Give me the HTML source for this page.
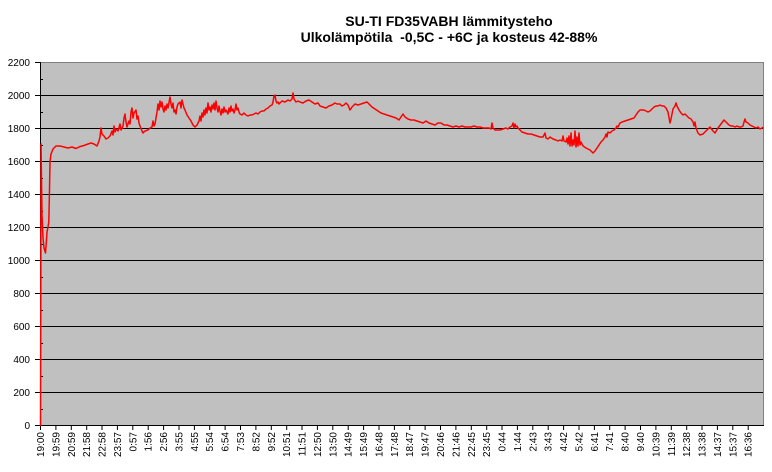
<!DOCTYPE html>
<html><head><meta charset="utf-8"><style>
html,body{margin:0;padding:0;background:#fff;}
svg{display:block;font-family:"Liberation Sans",Arial,sans-serif;}
</style></head><body>
<svg width="772" height="472" viewBox="0 0 772 472" xmlns="http://www.w3.org/2000/svg">
<rect x="0" y="0" width="772" height="472" fill="#fff"/>
<text x="449" y="26" text-anchor="middle" font-size="14" font-weight="bold" fill="#000">SU-TI FD35VABH lämmitysteho</text>
<text x="449" y="42" text-anchor="middle" font-size="14" font-weight="bold" fill="#000" xml:space="preserve">Ulkolämpötila  -0,5C - +6C ja kosteus 42-88%</text>
<rect x="40" y="62" width="723" height="364" fill="#c0c0c0"/>
<g stroke="#000" stroke-width="1">
<line x1="40" y1="392.5" x2="763" y2="392.5"/>
<line x1="40" y1="359.5" x2="763" y2="359.5"/>
<line x1="40" y1="326.5" x2="763" y2="326.5"/>
<line x1="40" y1="293.5" x2="763" y2="293.5"/>
<line x1="40" y1="260.5" x2="763" y2="260.5"/>
<line x1="40" y1="227.5" x2="763" y2="227.5"/>
<line x1="40" y1="194.5" x2="763" y2="194.5"/>
<line x1="40" y1="161.5" x2="763" y2="161.5"/>
<line x1="40" y1="128.5" x2="763" y2="128.5"/>
<line x1="40" y1="95.5" x2="763" y2="95.5"/>
</g>
<line x1="40" y1="62.5" x2="763" y2="62.5" stroke="#808080"/>
<line x1="763.5" y1="62" x2="763.5" y2="426" stroke="#808080"/>
<line x1="40.5" y1="62" x2="40.5" y2="426" stroke="#000"/>
<line x1="40" y1="425.5" x2="764" y2="425.5" stroke="#000"/>
<g stroke="#000" stroke-width="1">
<line x1="35" y1="425.5" x2="40" y2="425.5"/><line x1="35" y1="392.5" x2="40" y2="392.5"/><line x1="35" y1="359.5" x2="40" y2="359.5"/><line x1="35" y1="326.5" x2="40" y2="326.5"/><line x1="35" y1="293.5" x2="40" y2="293.5"/><line x1="35" y1="260.5" x2="40" y2="260.5"/><line x1="35" y1="227.5" x2="40" y2="227.5"/><line x1="35" y1="194.5" x2="40" y2="194.5"/><line x1="35" y1="161.5" x2="40" y2="161.5"/><line x1="35" y1="128.5" x2="40" y2="128.5"/><line x1="35" y1="95.5" x2="40" y2="95.5"/><line x1="35" y1="62.5" x2="40" y2="62.5"/>
<line x1="40" y1="409.5" x2="43" y2="409.5"/><line x1="40" y1="376.5" x2="43" y2="376.5"/><line x1="40" y1="343.5" x2="43" y2="343.5"/><line x1="40" y1="310.5" x2="43" y2="310.5"/><line x1="40" y1="277.5" x2="43" y2="277.5"/><line x1="40" y1="244.5" x2="43" y2="244.5"/><line x1="40" y1="211.5" x2="43" y2="211.5"/><line x1="40" y1="178.5" x2="43" y2="178.5"/><line x1="40" y1="145.5" x2="43" y2="145.5"/><line x1="40" y1="112.5" x2="43" y2="112.5"/><line x1="40" y1="79.5" x2="43" y2="79.5"/>
</g>
<g font-size="10" fill="#000" text-anchor="end">
<text x="30" y="429">0</text><text x="30" y="396">200</text><text x="30" y="363">400</text><text x="30" y="330">600</text><text x="30" y="297">800</text><text x="30" y="264">1000</text><text x="30" y="231">1200</text><text x="30" y="198">1400</text><text x="30" y="165">1600</text><text x="30" y="132">1800</text><text x="30" y="99">2000</text><text x="30" y="66">2200</text>
</g>
<g stroke="#000" stroke-width="1">
<line x1="40.5" y1="426" x2="40.5" y2="430"/><line x1="55.9" y1="426" x2="55.9" y2="430"/><line x1="71.3" y1="426" x2="71.3" y2="430"/><line x1="86.7" y1="426" x2="86.7" y2="430"/><line x1="102" y1="426" x2="102" y2="430"/><line x1="117.4" y1="426" x2="117.4" y2="430"/><line x1="132.8" y1="426" x2="132.8" y2="430"/><line x1="148.2" y1="426" x2="148.2" y2="430"/><line x1="163.6" y1="426" x2="163.6" y2="430"/><line x1="179" y1="426" x2="179" y2="430"/><line x1="194.4" y1="426" x2="194.4" y2="430"/><line x1="209.7" y1="426" x2="209.7" y2="430"/><line x1="225.1" y1="426" x2="225.1" y2="430"/><line x1="240.5" y1="426" x2="240.5" y2="430"/><line x1="255.9" y1="426" x2="255.9" y2="430"/><line x1="271.3" y1="426" x2="271.3" y2="430"/><line x1="286.7" y1="426" x2="286.7" y2="430"/><line x1="302" y1="426" x2="302" y2="430"/><line x1="317.4" y1="426" x2="317.4" y2="430"/><line x1="332.8" y1="426" x2="332.8" y2="430"/><line x1="348.2" y1="426" x2="348.2" y2="430"/><line x1="363.6" y1="426" x2="363.6" y2="430"/><line x1="379" y1="426" x2="379" y2="430"/><line x1="394.4" y1="426" x2="394.4" y2="430"/><line x1="409.7" y1="426" x2="409.7" y2="430"/><line x1="425.1" y1="426" x2="425.1" y2="430"/><line x1="440.5" y1="426" x2="440.5" y2="430"/><line x1="455.9" y1="426" x2="455.9" y2="430"/><line x1="471.3" y1="426" x2="471.3" y2="430"/><line x1="486.7" y1="426" x2="486.7" y2="430"/><line x1="502" y1="426" x2="502" y2="430"/><line x1="517.4" y1="426" x2="517.4" y2="430"/><line x1="532.8" y1="426" x2="532.8" y2="430"/><line x1="548.2" y1="426" x2="548.2" y2="430"/><line x1="563.6" y1="426" x2="563.6" y2="430"/><line x1="579" y1="426" x2="579" y2="430"/><line x1="594.4" y1="426" x2="594.4" y2="430"/><line x1="609.7" y1="426" x2="609.7" y2="430"/><line x1="625.1" y1="426" x2="625.1" y2="430"/><line x1="640.5" y1="426" x2="640.5" y2="430"/><line x1="655.9" y1="426" x2="655.9" y2="430"/><line x1="671.3" y1="426" x2="671.3" y2="430"/><line x1="686.7" y1="426" x2="686.7" y2="430"/><line x1="702" y1="426" x2="702" y2="430"/><line x1="717.4" y1="426" x2="717.4" y2="430"/><line x1="732.8" y1="426" x2="732.8" y2="430"/><line x1="748.2" y1="426" x2="748.2" y2="430"/>
</g>
<g font-size="10" fill="#000" text-anchor="end">
<text transform="translate(44,432) rotate(-90)">19:00</text>
<text transform="translate(59.4,432) rotate(-90)">19:59</text>
<text transform="translate(74.8,432) rotate(-90)">20:59</text>
<text transform="translate(90.2,432) rotate(-90)">21:58</text>
<text transform="translate(105.5,432) rotate(-90)">22:58</text>
<text transform="translate(120.9,432) rotate(-90)">23:57</text>
<text transform="translate(136.3,432) rotate(-90)">0:57</text>
<text transform="translate(151.7,432) rotate(-90)">1:56</text>
<text transform="translate(167.1,432) rotate(-90)">2:56</text>
<text transform="translate(182.5,432) rotate(-90)">3:55</text>
<text transform="translate(197.9,432) rotate(-90)">4:55</text>
<text transform="translate(213.2,432) rotate(-90)">5:54</text>
<text transform="translate(228.6,432) rotate(-90)">6:54</text>
<text transform="translate(244,432) rotate(-90)">7:53</text>
<text transform="translate(259.4,432) rotate(-90)">8:52</text>
<text transform="translate(274.8,432) rotate(-90)">9:52</text>
<text transform="translate(290.2,432) rotate(-90)">10:51</text>
<text transform="translate(305.5,432) rotate(-90)">11:51</text>
<text transform="translate(320.9,432) rotate(-90)">12:50</text>
<text transform="translate(336.3,432) rotate(-90)">13:50</text>
<text transform="translate(351.7,432) rotate(-90)">14:49</text>
<text transform="translate(367.1,432) rotate(-90)">15:49</text>
<text transform="translate(382.5,432) rotate(-90)">16:48</text>
<text transform="translate(397.9,432) rotate(-90)">17:48</text>
<text transform="translate(413.2,432) rotate(-90)">18:47</text>
<text transform="translate(428.6,432) rotate(-90)">19:47</text>
<text transform="translate(444,432) rotate(-90)">20:46</text>
<text transform="translate(459.4,432) rotate(-90)">21:46</text>
<text transform="translate(474.8,432) rotate(-90)">22:45</text>
<text transform="translate(490.2,432) rotate(-90)">23:45</text>
<text transform="translate(505.5,432) rotate(-90)">0:44</text>
<text transform="translate(520.9,432) rotate(-90)">1:44</text>
<text transform="translate(536.3,432) rotate(-90)">2:43</text>
<text transform="translate(551.7,432) rotate(-90)">3:43</text>
<text transform="translate(567.1,432) rotate(-90)">4:42</text>
<text transform="translate(582.5,432) rotate(-90)">5:42</text>
<text transform="translate(597.9,432) rotate(-90)">6:41</text>
<text transform="translate(613.2,432) rotate(-90)">7:41</text>
<text transform="translate(628.6,432) rotate(-90)">8:40</text>
<text transform="translate(644,432) rotate(-90)">9:40</text>
<text transform="translate(659.4,432) rotate(-90)">10:39</text>
<text transform="translate(674.8,432) rotate(-90)">11:39</text>
<text transform="translate(690.2,432) rotate(-90)">12:38</text>
<text transform="translate(705.5,432) rotate(-90)">13:38</text>
<text transform="translate(720.9,432) rotate(-90)">14:37</text>
<text transform="translate(736.3,432) rotate(-90)">15:37</text>
<text transform="translate(751.7,432) rotate(-90)">16:36</text>
</g>
<polyline fill="none" stroke="#ff0000" stroke-width="1.5" stroke-linejoin="round" points="
40.5,426 40.8,300 41,144 41.5,180 42,215 43,238 44,248 45.5,253 46.5,240 47,232 48,227 48.8,222 49.5,190 50,162 51,154 53,149 56,146 60,146 64,147 68,148 72,147 76,148.5 80,146.6 84,145.5 88,144 91,143 94,144 97,146 99,141 100,137 101,128 102,134 104,136 106,139 108,138 110,136 112,131 113,135 114,126 115,132 116,129 118,131 120,124 121,130 123,126 124,118 125,114 126,122 127,127 129,121 130,124 131,112 132,108 133,118 134,113 136,110 137,119 138,116 139,123 140,126 142,131 143,133 145,131 148,130 150,128 152,127 153,121 154,126 155,124 156,118 157,112 158,104 159,110 160,101 161,107 162,102 163,109 164,112 165,106 166,110 167,104 168,108 170,97 171,104 172,108 173,103 174,112 175,110 176,114 177,107 178,104 180,102 181,108 182,100 183,104 184,108 185,110 187,115 189,118 191,121 193,125 195,127 197,125 199,121 200,116 201,121 202,113 203,117 204,110 205,115 206,108 207,113 208,103 209,110 210,107 211,112 212,105 213,109 214,103 215,110 216,101 217,108 218,112 219,106 220,111 221,115 222,109 223,113 224,107 225,112 226,110 228,114 229,108 230,112 231,106 232,111 233,109 234,113 235,110 236,104 237,110 238,108 239,112 240,114 242,115 244,113 246,115 248,116 250,115 252,115 254,114 256,113 258,114 260,112 262,111 264,111 266,109 268,108 270,106 272,105 273,102 274,96 275,95 276,101 277,103 278,102 279,104 282,101 285,102 288,100 290,101 292,99 293,93 294,99 296,102 298,101 300,102 303,103 306,101 309,100 312,102 315,104 318,103 320,106 323,107 326,108 329,106 332,105 335,103 337,104 340,104 342,106 344,105 346,103 348,105 350,110 352,107 355,104 358,105 361,104 364,103 367,102 369,104 372,107 375,109 378,111 381,113 384,114 387,115 390,116 393,117 396,118 399,120 401,117 403,114 405,117 408,119 411,120 414,120 417,121 420,122 423,123 426,121 429,123 432,124 435,125 438,123 441,123 444,125 447,125 450,126 453,127 456,126 459,127 462,126 465,127 468,127 471,127 474,126 477,127 480,127 483,128 486,128 489,128 491,129 492,123 493,128 495,130 497,130 500,130 503,129 506,128 508,129 510,127 512,126 513,123 514,128 515,124 516,127 517,126 518,128 520,130 522,132 525,133 528,134 531,134 534,135 537,136 540,137 543,137 545,133 546,138 548,139 550,137 553,139 556,140 558,141 560,140 562,141 563,136 564,141 566,142 567,138 568,144 569,136 570,146 571,133 572,146 573,140 574,145 575,131 576,147 577,137 578,146 579,133 580,145 581,142 583,146 586,148 588,149 590,150 592,152 593,153 595,151 597,148 599,145 601,142 603,140 605,137 606,134 607,137 608,132 610,133 612,131 614,130 616,128 617,126 618,127 620,123 622,122 625,121 628,120 631,119 634,118 636,115 638,112 640,110 642,110 644,110 646,111 648,112 650,111 652,109 654,107 656,106 658,106 660,105 662,106 664,106 666,108 668,112 670,123 671,119 672,114 673,109 675,106 676,103 677,106 679,110 681,113 683,115 685,114 687,116 689,118 691,119 693,122 694,126 695,122 696,128 698,133 700,135 703,134 706,131 710,127 713,131 715,133 718,128 721,124 724,120 727,123 729,125 731,126 733,126 735,127 737,126 739,127 741,127 743,126 744,122 745,119 746,122 748,123 750,125 752,126 754,127 756,128 758,127 760,129 762,128 763,127"/>
</svg>
</body></html>
